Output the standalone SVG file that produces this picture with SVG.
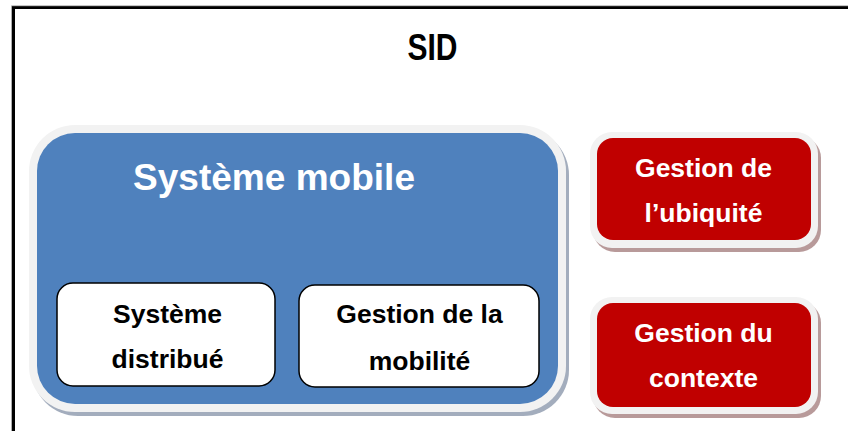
<svg xmlns="http://www.w3.org/2000/svg" width="848" height="431" viewBox="0 0 848 431">
<style>
.t{font-family:"Liberation Sans",Arial,sans-serif;font-weight:bold;text-anchor:middle}
.w{fill:#fff}
.k{fill:#000}
.rim{fill:#f2f2f2}
.shb{fill:#a3adbd}
.shr{fill:#b89a9a}
.inner{fill:#fff;stroke:#000;stroke-width:1.5}
</style>
<rect width="848" height="431" fill="#fff"/>
<g id="frame">
<path d="M13.5,431 V7.5 H848" fill="none" stroke="#000" stroke-width="3"/>
<path d="M11.5,431 V5.8 H848" fill="none" stroke="#999" stroke-width="0.8"/>
<text class="t k" x="432.5" y="60" font-size="37" textLength="50" lengthAdjust="spacingAndGlyphs">SID</text>
</g>
<g id="systeme-mobile">
<rect class="shb" x="32" y="129" width="537" height="287" rx="46"/>
<rect class="rim" x="29" y="125" width="537" height="287" rx="46"/>
<rect x="37" y="133" width="521" height="271" rx="38" fill="#4f81bd"/>
<text class="t w" x="274" y="190" font-size="37" textLength="282" lengthAdjust="spacingAndGlyphs">Système mobile</text>
</g>
<g id="systeme-distribue">
<rect class="inner" x="57" y="283" width="218" height="103" rx="16"/>
<text class="t k" x="167.5" y="323" font-size="26.5">Système</text>
<text class="t k" x="167.5" y="368" font-size="26.5">distribué</text>
</g>
<g id="gestion-mobilite">
<rect class="inner" x="299" y="285" width="240" height="102" rx="16"/>
<text class="t k" x="419.5" y="323" font-size="26.5">Gestion de la</text>
<text class="t k" x="419.5" y="370" font-size="26.5">mobilité</text>
</g>
<g id="gestion-ubiquite">
<rect class="shr" x="593" y="136" width="228" height="116" rx="22"/>
<rect class="rim" x="590" y="132" width="228" height="116" rx="22"/>
<rect x="597" y="138" width="214" height="102" rx="16" fill="#c00000"/>
<text class="t w" x="703.5" y="177" font-size="26.5">Gestion de</text>
<text class="t w" x="703.5" y="222" font-size="26.5">l’ubiquité</text>
</g>
<g id="gestion-contexte">
<rect class="shr" x="593" y="301" width="228" height="117" rx="22"/>
<rect class="rim" x="590" y="297" width="228" height="117" rx="22"/>
<rect x="597" y="303" width="214" height="104" rx="16" fill="#c00000"/>
<text class="t w" x="703.5" y="342" font-size="26.5">Gestion du</text>
<text class="t w" x="703.5" y="387" font-size="26.5">contexte</text>
</g>
<g id="connectors"/>
</svg>
